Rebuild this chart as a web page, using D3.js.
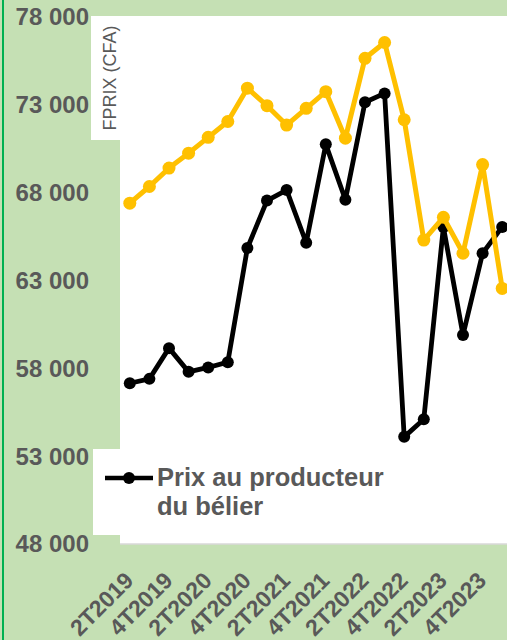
<!DOCTYPE html>
<html lang="fr">
<head>
    <meta charset="UTF-8">
    <title>Prix au producteur du bélier</title>
    <script src="https://d3js.org/d3.v7.min.js"></script>
    <style>
        body {
            margin: 0;
            font-family: "Liberation Sans", Arial, sans-serif;
        }
        svg {
            display: block;
        }
    </style>
</head>
<body>
    <div id="chart"></div>
    <script>
        // Trimestres (un libellé sur deux est affiché)
        const categories = [
            "2T2019", "3T2019", "4T2019", "1T2020", "2T2020", "3T2020", "4T2020",
            "1T2021", "2T2021", "3T2021", "4T2021", "1T2022", "2T2022", "3T2022",
            "4T2022", "1T2023", "2T2023", "3T2023", "4T2023", "1T2024"
        ];
        // Série noire : prix au producteur du bélier
        const prixProducteur = [
            57150, 57400, 59150, 57800, 58050, 58350, 64850,
            67550, 68150, 65150, 70750, 67600, 73150, 73650,
            54100, 55100, 66050, 59900, 64550, 66050
        ];
        // Série jaune
        const prixSerie2 = [
            67400, 68350, 69400, 70250, 71150, 72050, 73950,
            72950, 71850, 72800, 73750, 71100, 75650, 76550,
            72150, 65300, 66600, 64550, 69600, 62550
        ];
        const yTicks = [48000, 53000, 58000, 63000, 68000, 73000, 78000];

        const width = 507;
        const height = 640;
        const plot = { left: 120, top: 16, bottom: 544 };

        const svg = d3.select("#chart").append("svg")
            .attr("width", width)
            .attr("height", height);

        // fond vert
        svg.append("rect")
            .attr("width", width)
            .attr("height", height)
            .attr("fill", "#c5e0b4");
        svg.append("rect")
            .attr("x", 2)
            .attr("width", 2)
            .attr("height", height)
            .attr("fill", "#00b050");

        const x = d3.scaleBand()
            .domain(categories)
            .range([plot.left, plot.left + categories.length * 19.6]);
        const y = d3.scaleLinear()
            .domain([48000, 78000])
            .range([plot.bottom, 17]);

        // zone de tracé
        svg.append("rect")
            .attr("x", plot.left)
            .attr("y", plot.top)
            .attr("width", width - plot.left + 10)
            .attr("height", plot.bottom - plot.top)
            .attr("fill", "#ffffff");
        svg.append("line")
            .attr("x1", plot.left)
            .attr("x2", width)
            .attr("y1", plot.bottom)
            .attr("y2", plot.bottom)
            .attr("stroke", "#d9d9d9")
            .attr("stroke-width", 1.5);

        // titre de l'axe
        svg.append("rect")
            .attr("x", 91)
            .attr("y", 16)
            .attr("width", 29)
            .attr("height", 124)
            .attr("fill", "#ffffff");
        svg.append("text")
            .attr("transform", "translate(116,78) rotate(-90)")
            .attr("text-anchor", "middle")
            .attr("font-size", "18px")
            .attr("fill", "#595959")
            .text("FPRIX (CFA)");

        // graduations Y
        const fmt = d3.formatLocale({ decimal: ",", thousands: " ", grouping: [3], currency: ["", ""] }).format(",");
        svg.selectAll(".ytick")
            .data(yTicks)
            .enter().append("text")
            .attr("class", "ytick")
            .attr("x", 89)
            .attr("y", d => y(d))
            .attr("dy", "0.35em")
            .attr("text-anchor", "end")
            .attr("font-size", "24px")
            .attr("font-weight", "bold")
            .attr("fill", "#595959")
            .text(d => fmt(d));

        // libellés X
        svg.selectAll(".xtick")
            .data(categories.filter((c, i) => i % 2 === 0))
            .enter().append("text")
            .attr("class", "xtick")
            .attr("transform", d => `translate(${x(d) + x.bandwidth() / 2 + 5},582) rotate(-45)`)
            .attr("text-anchor", "end")
            .attr("font-size", "23px")
            .attr("font-weight", "bold")
            .attr("fill", "#595959")
            .text(d => d);

        function addSeries(values, color, lineWidth, radius) {
            const pts = values.map((v, i) => ({ cat: categories[i], value: v }));
            const line = d3.line()
                .x(d => x(d.cat) + x.bandwidth() / 2)
                .y(d => y(d.value));

            svg.append("path")
                .datum(pts)
                .attr("d", line)
                .attr("fill", "none")
                .attr("stroke", color)
                .attr("stroke-width", lineWidth)
                .attr("stroke-linejoin", "round");

            svg.append("g").selectAll("circle")
                .data(pts)
                .enter().append("circle")
                .attr("cx", d => x(d.cat) + x.bandwidth() / 2)
                .attr("cy", d => y(d.value))
                .attr("r", radius)
                .attr("fill", color);
        }

        addSeries(prixProducteur, "#000000", 4.8, 6);
        addSeries(prixSerie2, "#ffc000", 5, 6.5);

        // légende
        svg.append("rect")
            .attr("x", 93)
            .attr("y", 449)
            .attr("width", 310)
            .attr("height", 86)
            .attr("fill", "#ffffff");
        svg.append("line")
            .attr("x1", 105)
            .attr("x2", 153)
            .attr("y1", 478)
            .attr("y2", 478)
            .attr("stroke", "#000000")
            .attr("stroke-width", 4.5);
        svg.append("circle")
            .attr("cx", 129)
            .attr("cy", 478)
            .attr("r", 6)
            .attr("fill", "#000000");
        const legendText = svg.append("text")
            .attr("x", 157)
            .attr("y", 486)
            .attr("font-size", "25.5px")
            .attr("font-weight", "bold")
            .attr("fill", "#595959");
        legendText.append("tspan")
            .attr("x", 157)
            .text("Prix au producteur");
        legendText.append("tspan")
            .attr("x", 157)
            .attr("dy", 29)
            .text("du bélier");
    </script>
</body>
</html>
